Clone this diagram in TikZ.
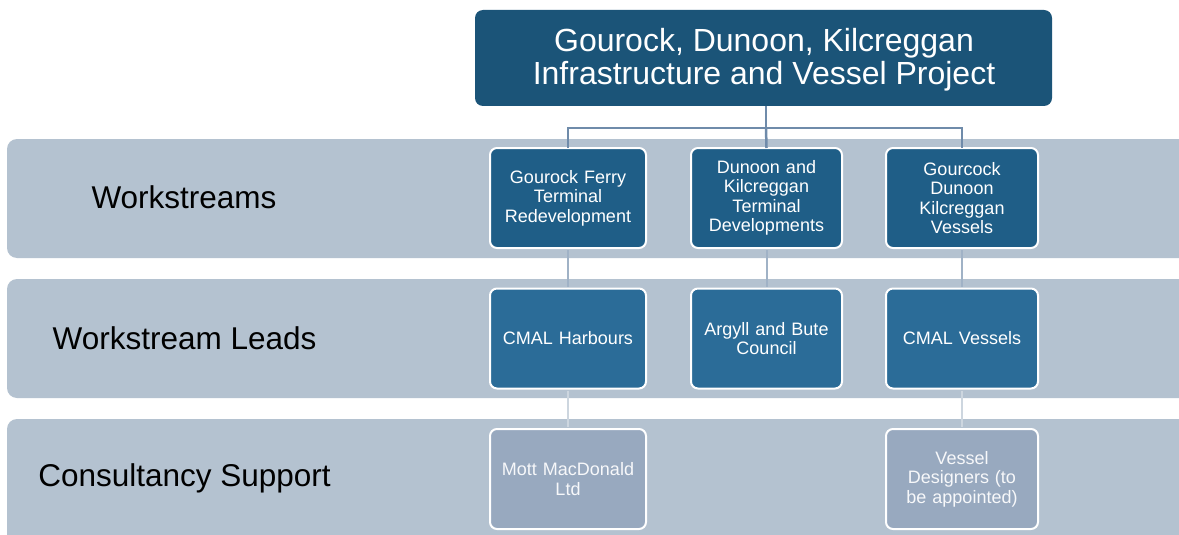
\documentclass[tikz,border=0pt]{standalone}
\usepackage{fontspec}
\setmainfont{Liberation Sans}
\definecolor{bandc}{HTML}{B4C2D0}
\definecolor{topc}{HTML}{1B5478}
\definecolor{wsc}{HTML}{1F5E87}
\definecolor{leadc}{HTML}{2B6C98}
\definecolor{consc}{HTML}{98A9BF}
\definecolor{busc}{HTML}{6F8BAA}
\definecolor{linkc}{HTML}{A0B2C6}
\definecolor{lightc}{HTML}{CDD6DF}
\tikzset{
  band/.style={fill=bandc, draw=none, rounded corners=10pt},
  bandlabel/.style={font=\fontsize{31.5}{33}\selectfont, text=black, anchor=center},
  box/.style={draw=white, line width=2pt, rounded corners=7pt, minimum height=100pt, text=white, align=center, font=\fontsize{18}{19.5}\selectfont, inner sep=1pt},
  wsbox/.style={box, fill=wsc},
  leadbox/.style={box, fill=leadc},
  consbox/.style={box, fill=consc, text=white!92!consc},
  bus/.style={draw=busc, line width=2.5pt},
  link/.style={draw=linkc, line width=2pt},
  lightlink/.style={draw=lightc, line width=2pt},
}
\begin{document}
\begin{tikzpicture}[x=1pt,y=-1pt]
\useasboundingbox (0,0) rectangle (1179,535);
\fill[white] (0,0) rectangle (1179,535);
% bands
\fill[band] (7,139) rectangle (1200,258);
\fill[band] (7,279) rectangle (1200,398);
\fill[band] (7,419) rectangle (1200,560);
\node[bandlabel] (lab1) at (184,197) {Workstreams};
\node[bandlabel] (lab2) at (184.5,338) {Workstream Leads};
\node[bandlabel] (lab3) at (184.5,478) {Consultancy Support};
% top box
\node[fill=topc, rounded corners=8pt, minimum width=577pt, minimum height=96pt, text=white, align=center, font=\fontsize{32}{33}\selectfont] (top) at (763.5,58) {};
\node[text=white, align=center, font=\fontsize{32}{33}\selectfont] (toptext) at (764,60) {Gourock, Dunoon, Kilcreggan\\Infrastructure and Vessel Project};
\coordinate (bus) at (766,128);
\node[wsbox, minimum width=156pt, text width=154pt] (w1) at (568,198) {Gourock Ferry\\Terminal\\Redevelopment};
\node[wsbox, minimum width=151pt, text width=149pt] (w2) at (766.5,198) {Dunoon and\\Kilcreggan\\Terminal\\Developments};
\node[wsbox, minimum width=152pt, text width=150pt] (w3) at (962,198) {Gourcock\\Dunoon\\Kilcreggan\\Vessels};
\node[leadbox, minimum width=156pt, text width=154pt] (l1) at (568,338.5) {CMAL Harbours};
\node[leadbox, minimum width=151pt, text width=149pt] (l2) at (766.5,338.5) {Argyll and Bute\\Council};
\node[leadbox, minimum width=152pt, text width=150pt] (l3) at (962,338.5) {CMAL Vessels};
\node[consbox, minimum width=156pt, text width=154pt] (c1) at (568,479) {Mott MacDonald\\Ltd};
\node[consbox, minimum width=152pt, text width=150pt] (c3) at (962,479) {Vessel\\Designers (to\\be appointed)};
\draw[bus] (top.south -| bus) -- (bus);
\draw[bus] (bus) -| ([yshift=-1pt]w1.north);
\draw[bus] (bus) -- ([yshift=-1pt]w2.north);
\draw[bus] (bus) -| ([yshift=-1pt]w3.north);
\draw[link] ([yshift=-1pt]w1.south) -- ([yshift=1pt]l1.north);
\draw[link] ([yshift=-1pt]w2.south) -- ([yshift=1pt]l2.north);
\draw[link] ([yshift=-1pt]w3.south) -- ([yshift=1pt]l3.north);
\draw[lightlink] ([yshift=-1pt]l1.south) -- ([yshift=1pt]c1.north);
\draw[lightlink] ([yshift=-1pt]l3.south) -- ([yshift=1pt]c3.north);
\end{tikzpicture}
\end{document}
